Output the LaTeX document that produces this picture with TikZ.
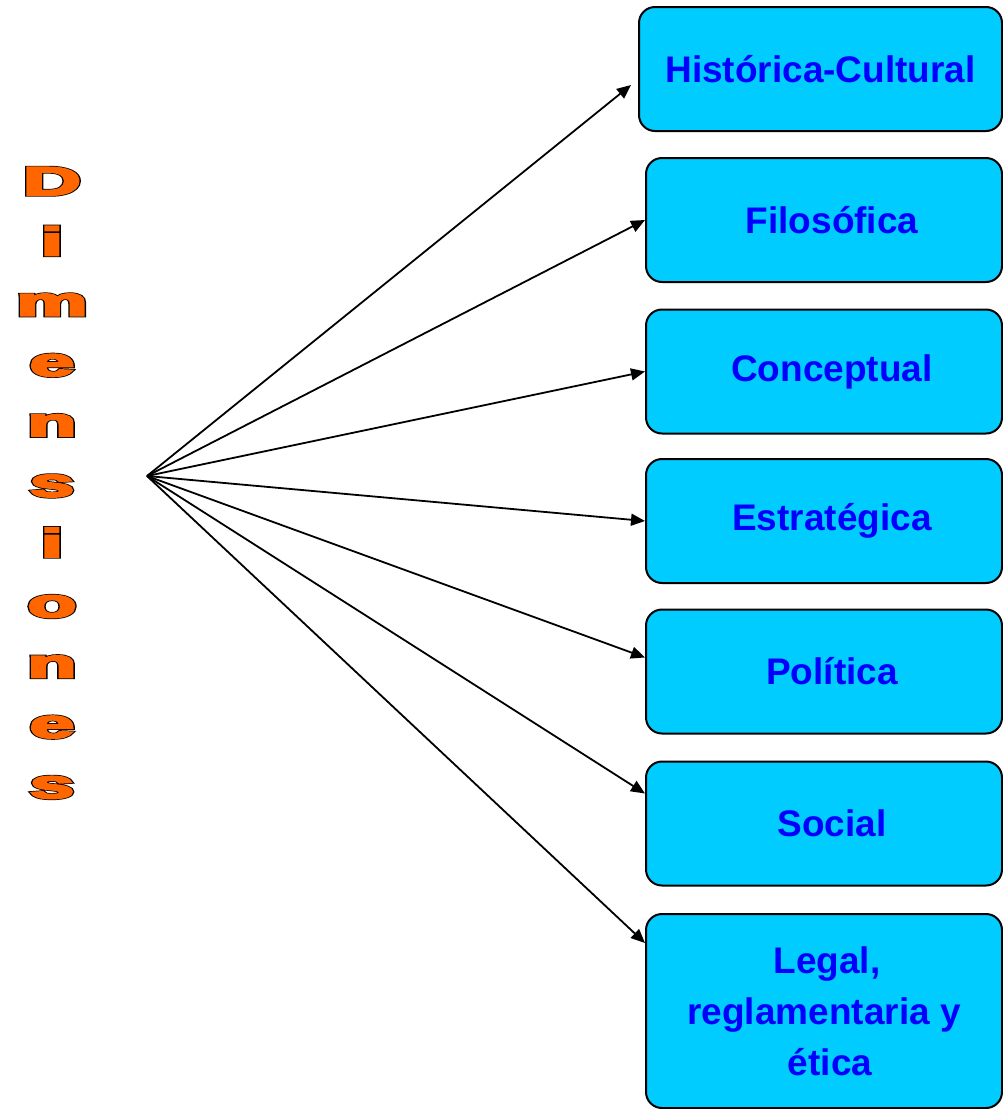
\documentclass[tikz,border=0pt]{standalone}
\usepackage{fontspec}
\setmainfont{Liberation Sans}
\usepackage{xcolor}
\usepackage{graphicx}
\usetikzlibrary{shapes,arrows.meta}
\definecolor{boxcyan}{HTML}{00CCFF}
\definecolor{boxtext}{HTML}{0000FF}
\definecolor{dimorange}{HTML}{FF6600}
\newcommand{\outlined}[1]{%
\rlap{\special{pdf:literal direct 2 Tr 3.4 w 0 G}#1}%
\special{pdf:literal direct 2 Tr 2 w 1 0.4 0 RG}#1\special{pdf:literal direct 0 Tr 0 G}}

\begin{document}
\begin{tikzpicture}[x=1pt,y=-1pt]
\tikzstyle{dimbox} = [draw, line width=2pt, fill=boxcyan, rounded corners=16pt, minimum width=356pt, minimum height=124pt, text=boxtext, font=\fontsize{37}{51}\selectfont\bfseries, align=center, inner sep=0pt]
\tikzstyle{letter} = [anchor=base, inner sep=0pt, font=\fontsize{40}{40}\selectfont\bfseries]
\tikzstyle{arr} = [line width=1.8pt, -{Triangle[length=14pt,width=12pt]}]
\useasboundingbox (0,0) rectangle (1003,1109);
\foreach \l [count=\k] in {D,i,m,e,n,s,i,o,n,e,s}
	\node[letter] (l\k) at (52,{195+60.3*(\k-1)}) {\scalebox{2}[1]{\color{dimorange}\outlined{\l}}};
\coordinate (hub) at (147,476);
\node[dimbox, minimum width=363pt] (hist) at (820.5,69) {Histórica-Cultural};
\node[dimbox] (filo) at (824,220) {\hspace*{16pt}Filosófica};
\node[dimbox] (conc) at (824,371.5) {\hspace*{16pt}Conceptual};
\node[dimbox] (estr) at (824,521) {\hspace*{16pt}Estratégica};
\node[dimbox] (poli) at (824,671.5) {\hspace*{16pt}Política};
\node[dimbox] (soci) at (824,823.5) {\hspace*{16pt}Social};
\node[dimbox, minimum height=194pt] (lega) at (824,1011) {\hspace*{6pt}Legal,\\reglamentaria y\\\hspace*{12pt}ética};
\draw[arr] (hub) -- ([shift={(-7,16)}]hist.west);
\draw[arr] (hub) -- (filo.west);
\draw[arr] (hub) -- (conc.west);
\draw[arr] (hub) -- (estr.west);
\draw[arr] (hub) -- ([shift={(0,-14)}]poli.west);
\draw[arr] (hub) -- ([shift={(0,-30)}]soci.west);
\draw[arr] (hub) -- ([shift={(0,-68)}]lega.west);
\end{tikzpicture}
\end{document}
